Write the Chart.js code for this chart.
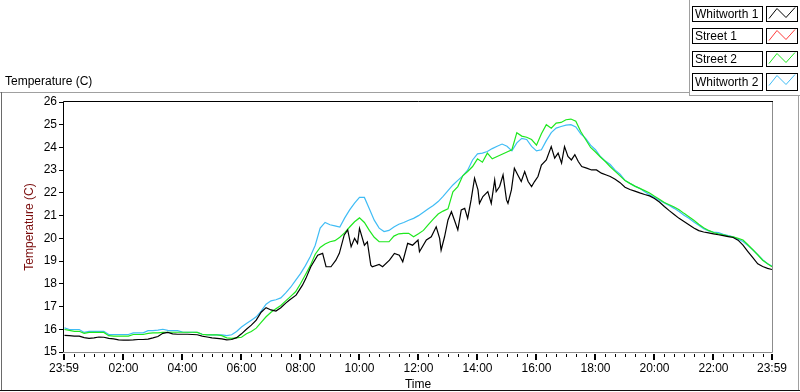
<!DOCTYPE html>
<html>
<head>
<meta charset="utf-8">
<script src="https://cdn.jsdelivr.net/npm/chart.js@4.4.0/dist/chart.umd.min.js"></script>
<style>
  html, body { margin: 0; padding: 0; background: #fff; }
</style>
</head>
<body>
<canvas id="chartTemp" width="800" height="392"></canvas>
<script>
/* ===== Temperature chart (Chart.js) ===== */

// ---- Data ----
// sample times, minutes after 00:00 (axis runs 23:59 -> 23:59)
var minutes = [
  0, 10, 20, 30, 40, 50, 60, 70, 80, 90,
  100, 110, 120, 130, 140, 150, 160, 170, 180, 190,
  200, 210, 220, 230, 240, 250, 260, 270, 280, 290,
  300, 310, 320, 330, 340, 350, 360, 370, 380, 390,
  400, 410, 420, 430, 440, 450, 460, 470, 480, 490,
  500, 510, 520, 530, 540, 550, 560, 570, 580, 590,
  600, 610, 620, 630, 640, 650, 660, 670, 680, 690,
  700, 710, 720, 730, 740, 750, 760, 770, 780, 790,
  800, 810, 820, 830, 840, 850, 860, 870, 880, 890,
  900, 910, 920, 930, 940, 950, 960, 970, 980, 990,
  1000, 1010, 1020, 1030, 1040, 1050, 1060, 1070, 1080, 1090,
  1100, 1110, 1120, 1130, 1140, 1150, 1160, 1170, 1180, 1190,
  1200, 1210, 1220, 1230, 1240, 1250, 1260, 1270, 1280, 1290,
  1300, 1310, 1320, 1330, 1340, 1350, 1360, 1370, 1380, 1390,
  1400, 1410, 1420, 1430, 1439
];

// Whitworth 1 is noisier, so it has its own (denser) sample times
var whitworth1Minutes = [
  0, 10, 20, 30, 40, 50, 60, 70, 80, 90,
  100, 110, 120, 130, 140, 150, 160, 170, 180, 190,
  200, 210, 220, 230, 240, 250, 260, 270, 280, 290,
  300, 310, 320, 330, 340, 350, 360, 370, 380, 390,
  400, 410, 420, 430, 440, 450, 457, 471, 484, 491,
  501, 515, 525, 532, 542, 552, 559, 569, 576, 583,
  590, 596, 600, 610, 616, 623, 626, 640, 647, 661,
  671, 681, 688, 698, 708, 719, 722, 736, 746, 756,
  763, 766, 773, 780, 787, 793, 800, 807, 814, 820,
  827, 834, 841, 844, 851, 861, 868, 875, 878, 885,
  892, 899, 902, 909, 915, 922, 929, 936, 943, 950,
  956, 963, 970, 980, 990, 997, 1004, 1011, 1017, 1024,
  1031, 1038, 1045, 1052, 1062, 1072, 1082, 1092, 1102, 1110,
  1120, 1130, 1140, 1150, 1160, 1170, 1180, 1190, 1200, 1210,
  1220, 1230, 1240, 1250, 1260, 1270, 1280, 1290, 1300, 1310,
  1320, 1330, 1340, 1350, 1360, 1370, 1380, 1390, 1400, 1410,
  1420, 1430, 1439
];

var whitworth1 = [
  15.73, 15.72, 15.70, 15.70, 15.63, 15.60, 15.62, 15.66, 15.65, 15.60,
  15.58, 15.53, 15.52, 15.52, 15.53, 15.55, 15.55, 15.57, 15.62, 15.68,
  15.82, 15.86, 15.80, 15.78, 15.78, 15.78, 15.77, 15.76, 15.70, 15.66,
  15.62, 15.60, 15.58, 15.53, 15.55, 15.63, 15.80, 16.00, 16.18, 16.40,
  16.75, 16.95, 16.85, 16.80, 16.95, 17.15, 17.28, 17.50, 17.94, 18.24,
  18.75, 19.26, 19.34, 18.75, 18.75, 19.04, 19.34, 20.15, 20.37, 19.63,
  20.00, 19.78, 20.44, 19.70, 19.85, 18.82, 18.75, 18.85, 18.75, 19.04,
  19.34, 19.26, 18.97, 19.78, 19.70, 19.93, 19.41, 19.93, 20.07, 20.51,
  20.00, 19.48, 20.07, 20.81, 21.17, 20.81, 20.37, 21.25, 21.32, 20.88,
  21.69, 22.65, 22.13, 21.54, 21.84, 22.06, 21.54, 22.57, 22.06, 22.28,
  22.79, 21.69, 21.54, 22.13, 23.09, 22.79, 22.50, 22.94, 22.50, 22.28,
  22.50, 22.72, 23.23, 23.45, 24.04, 23.53, 23.75, 23.31, 24.04, 23.60,
  23.45, 23.68, 23.38, 23.16, 23.09, 23.01, 23.01, 22.87, 22.79, 22.72,
  22.60, 22.45, 22.25, 22.15, 22.08, 22.00, 21.93, 21.87, 21.75, 21.60,
  21.40, 21.22, 21.05, 20.88, 20.74, 20.60, 20.46, 20.34, 20.28, 20.24,
  20.20, 20.16, 20.12, 20.08, 20.04, 19.92, 19.70, 19.42, 19.15, 18.88,
  18.76, 18.68, 18.63
];

var street1 = [];

var street2 = [
  15.99, 15.95, 15.91, 15.91, 15.82, 15.86, 15.86, 15.86, 15.86, 15.72,
  15.70, 15.70, 15.70, 15.70, 15.77, 15.77, 15.77, 15.82, 15.84, 15.84,
  15.86, 15.87, 15.87, 15.87, 15.87, 15.87, 15.87, 15.86, 15.78, 15.75,
  15.75, 15.75, 15.72, 15.62, 15.60, 15.62, 15.65, 15.80, 15.90, 16.05,
  16.30, 16.55, 16.75, 16.90, 17.05, 17.25, 17.45, 17.65, 18.00, 18.40,
  18.80, 19.30, 19.60, 19.75, 19.85, 19.90, 20.05, 20.25, 20.50, 20.73,
  20.90, 20.70, 20.35, 20.05, 19.85, 19.85, 19.85, 20.10, 20.20, 20.22,
  20.22, 20.07, 20.20, 20.35, 20.60, 20.85, 21.07, 21.20, 21.30, 22.05,
  22.28, 22.75, 22.94, 23.16, 23.50, 23.35, 23.75, 23.50, 23.60, 23.70,
  23.80, 23.90, 24.65, 24.50, 24.45, 24.35, 24.10, 24.60, 25.00, 24.85,
  25.07, 25.10, 25.22, 25.25, 25.15, 24.70, 24.35, 24.00, 23.80, 23.58,
  23.38, 23.15, 22.95, 22.75, 22.55, 22.42, 22.30, 22.20, 22.10, 22.00,
  21.85, 21.72, 21.58, 21.48, 21.38, 21.26, 21.10, 20.95, 20.80, 20.62,
  20.47, 20.35, 20.26, 20.20, 20.15, 20.10, 20.07, 20.00, 19.93, 19.72,
  19.50, 19.28, 19.04, 18.88, 18.75
];

var whitworth2 = [
  16.06, 15.99, 15.99, 15.99, 15.86, 15.91, 15.91, 15.91, 15.91, 15.77,
  15.77, 15.77, 15.77, 15.77, 15.84, 15.84, 15.84, 15.94, 15.94, 15.96,
  16.00, 15.95, 15.94, 15.94, 15.88, 15.87, 15.87, 15.87, 15.78, 15.76,
  15.75, 15.75, 15.75, 15.72, 15.76, 15.90, 16.10, 16.25, 16.40, 16.55,
  16.80, 17.10, 17.25, 17.30, 17.38, 17.60, 17.85, 18.15, 18.45, 18.80,
  19.20, 19.70, 20.45, 20.70, 20.60, 20.55, 20.50, 20.90, 21.25, 21.55,
  21.80, 21.80, 21.30, 20.80, 20.45, 20.30, 20.35, 20.50, 20.62, 20.70,
  20.80, 20.88, 21.00, 21.15, 21.30, 21.45, 21.62, 21.85, 22.10, 22.35,
  22.55, 22.75, 23.00, 23.45, 23.72, 23.75, 23.82, 23.95, 24.05, 24.15,
  24.05, 23.85, 24.20, 24.40, 24.35, 24.05, 23.85, 23.90, 24.30, 24.65,
  24.85, 24.92, 24.98, 25.00, 24.90, 24.60, 24.40, 24.10, 23.90, 23.60,
  23.40, 23.25, 23.00, 22.82, 22.55, 22.42, 22.30, 22.20, 22.05, 21.92,
  21.80, 21.68, 21.56, 21.45, 21.32, 21.18, 21.02, 20.88, 20.72, 20.58,
  20.42, 20.33, 20.28, 20.25, 20.18, 20.12, 20.07, 19.96, 19.86, 19.68,
  19.50, 19.28, 19.06, 18.88, 18.78
];

var seriesNames  = ['Whitworth 1', 'Street 1', 'Street 2', 'Whitworth 2'];
var seriesColors = ['#000000', '#ff3b3b', '#1ee81e', '#3fbcf5'];

var xMajorTicks  = [-1, 120, 240, 360, 480, 600, 720, 840, 960, 1080, 1200, 1320, 1439];
var xMajorLabels = ['23:59', '02:00', '04:00', '06:00', '08:00', '10:00', '12:00',
                    '14:00', '16:00', '18:00', '20:00', '22:00', '23:59'];

var chartTitle = 'Temperature (C)';
var yTitle = 'Temperature (C)';
var xTitle = 'Time';

var FONT = '"Liberation Sans", Arial, sans-serif';
Chart.defaults.font.family = FONT;
Chart.defaults.font.size = 12;
Chart.defaults.color = '#000';

// minor x ticks every 20 minutes
var xMinorTicks = [];
for (var t = 20; t < 1439; t += 20) {
  if (xMajorTicks.indexOf(t) < 0) xMinorTicks.push(t);
}

function toPoints(times, vals) {
  return vals.map(function (v, i) { return { x: times[i], y: v }; });
}

var seriesData = [
  toPoints(whitworth1Minutes, whitworth1),
  toPoints(minutes, street1),
  toPoints(minutes, street2),
  toPoints(minutes, whitworth2)
];

// ---- frame, title, legend and x tick marks ----
var panelPlugin = {
  id: 'panel',
  beforeDraw: function (chart) {
    var c = chart.ctx;
    c.save();
    c.fillStyle = '#fff';
    c.fillRect(0, 0, chart.width, chart.height);

    // outer panel edges
    c.lineWidth = 1;
    c.strokeStyle = '#a0a0a0';
    c.beginPath();
    c.moveTo(0, 92.5); c.lineTo(690, 92.5);
    c.moveTo(689.5, 0); c.lineTo(689.5, 96);
    c.moveTo(690, 95.5); c.lineTo(800, 95.5);
    c.moveTo(798.5, 96); c.lineTo(798.5, 390);
    c.stroke();
    c.strokeStyle = '#6a6a6a';
    c.beginPath(); c.moveTo(1.5, 92); c.lineTo(1.5, 391); c.stroke();
    c.strokeStyle = '#111';
    c.beginPath(); c.moveTo(0, 390.5); c.lineTo(800, 390.5); c.stroke();

    // top-left title
    c.fillStyle = '#000';
    c.font = '12px ' + FONT;
    c.textAlign = 'left';
    c.textBaseline = 'middle';
    c.fillText(chartTitle, 5, 82);

    // legend
    chart.data.datasets.forEach(function (ds, i) {
      var top = 6.5 + Math.round(i * 22.3);
      var h = i === 3 ? 17 : 15;
      c.strokeStyle = '#000';
      c.fillStyle = '#fff';
      c.fillRect(692.5, top, 70, h);
      c.strokeRect(692.5, top, 70, h);
      c.fillRect(766.5, top, 31, h);
      c.strokeRect(766.5, top, 31, h);
      c.fillStyle = '#000';
      c.fillText(ds.label, 695, top + h / 2 + 0.5);
      c.strokeStyle = ds.borderColor;
      c.beginPath();
      c.moveTo(769, top + 12);
      c.lineTo(777, top + 2);
      c.lineTo(786, top + 11);
      c.lineTo(795, top + 1);
      c.stroke();
    });
    c.restore();
  },
  afterDraw: function (chart) {
    var c = chart.ctx, a = chart.chartArea, xs = chart.scales.x;
    c.save();
    c.lineWidth = 1;
    // plot frame: dark top/left, grey bottom/right
    c.strokeStyle = '#000';
    c.beginPath();
    c.moveTo(a.left - 0.5, a.bottom + 1); c.lineTo(a.left - 0.5, a.top - 0.5);
    c.lineTo(a.right + 1, a.top - 0.5);
    c.stroke();
    c.strokeStyle = '#8c8c8c';
    c.beginPath();
    c.moveTo(a.right + 0.5, a.top); c.lineTo(a.right + 0.5, a.bottom + 0.5);
    c.lineTo(a.left - 1, a.bottom + 0.5);
    c.stroke();
    // x ticks
    c.fillStyle = '#000';
    xMinorTicks.forEach(function (v) {
      var px = Math.round(xs.getPixelForValue(v));
      c.fillRect(px, a.bottom + 2, 1, 3);
    });
    xMajorTicks.forEach(function (v) {
      var px = Math.round(xs.getPixelForValue(v));
      c.fillRect(px - 1, a.bottom + 2, 2, 6);
    });
    c.restore();
  }
};

// ---- Chart instance ----
var ctxTemp = document.getElementById('chartTemp').getContext('2d');

var chartTemp = new Chart(ctxTemp, {
  type: 'line',
  data: {
    datasets: seriesNames.map(function (name, i) {
      return {
        label: name, data: seriesData[i],
        borderColor: seriesColors[i], backgroundColor: seriesColors[i],
        borderWidth: 1.2, pointRadius: 0, tension: 0, fill: false
      };
    })
  },
  options: {
    responsive: false, animation: false, devicePixelRatio: 1,
    layout: { padding: { top: 102, right: 28, left: 0, bottom: 0 } },
    plugins: { legend: { display: false }, tooltip: { enabled: false } },
    scales: {
      x: {
        type: 'linear', min: -1, max: 1439,
        afterFit: function (s) { s.height = 40; },
        afterBuildTicks: function (s) {
          s.ticks = xMajorTicks.map(function (v) { return { value: v }; });
        },
        ticks: {
          autoSkip: false, maxRotation: 0, padding: 9, color: '#000',
          callback: function (v) {
            var k = xMajorTicks.indexOf(v);
            return k < 0 ? '' : xMajorLabels[k];
          }
        },
        grid: { display: false, drawTicks: false },
        border: { display: false },
        title: { display: true, text: xTitle, color: '#000', padding: { top: 0, bottom: 0 } }
      },
      y: {
        min: 15, max: 26,
        afterFit: function (s) { s.width = 64; },
        ticks: { stepSize: 1, padding: 2, color: '#000' },
        grid: { drawOnChartArea: false, tickLength: 5, tickColor: '#000', tickWidth: 1 },
        border: { display: false },
        title: { display: true, text: yTitle, color: '#7a0c0c', padding: { top: 22, bottom: 0 } }
      }
    }
  },
  plugins: [panelPlugin]
});
</script>
</body>
</html>
